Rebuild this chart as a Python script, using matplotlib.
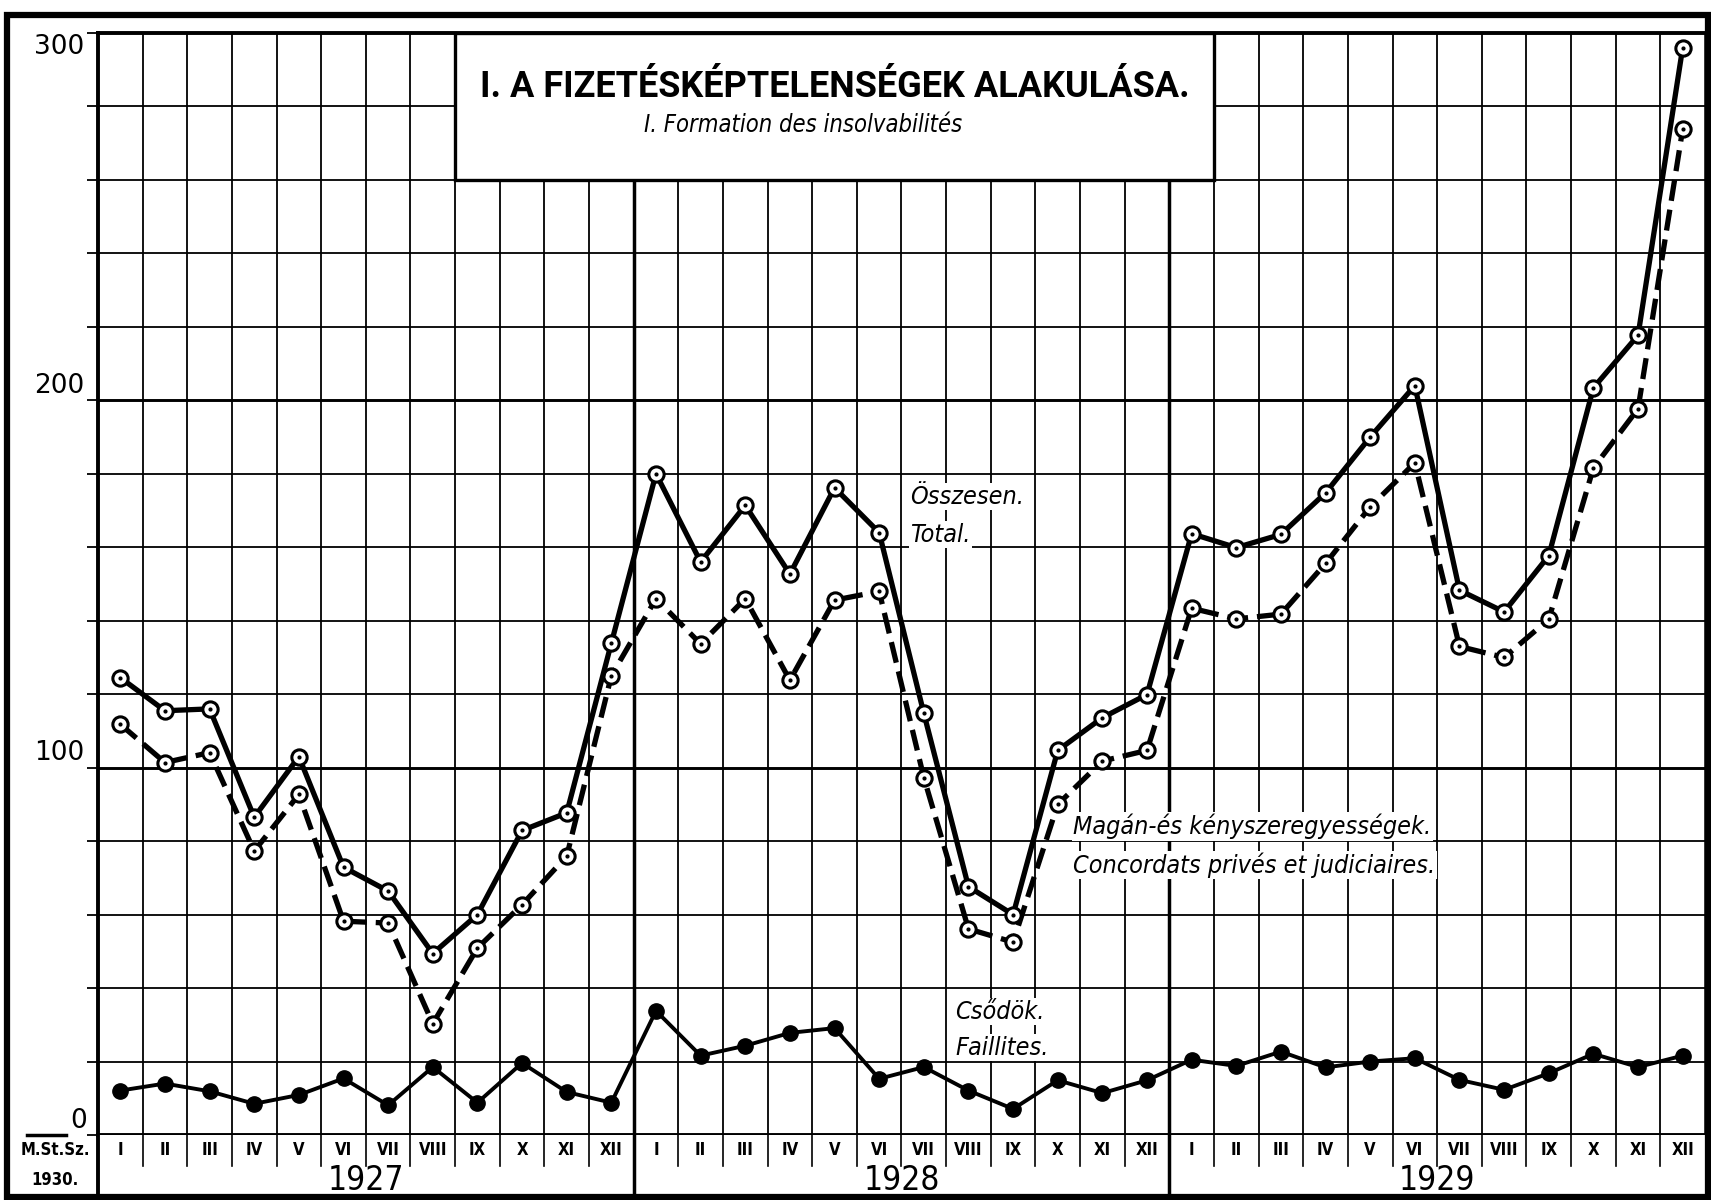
import matplotlib
matplotlib.use('Agg')
import matplotlib.pyplot as plt
from matplotlib import font_manager
from matplotlib.patches import Rectangle

# Adatok: havi fizetésképtelenségek 1927-1929
honapok = ['I', 'II', 'III', 'IV', 'V', 'VI', 'VII', 'VIII', 'IX', 'X', 'XI', 'XII']
evek = ['1927', '1928', '1929']

osszesen = [124.5, 115.5, 116.0, 86.5, 103.0, 72.9, 66.4, 49.4, 60.0, 82.9, 87.7, 133.9,
            180.0, 156.0, 171.4, 152.7, 176.2, 164.0, 114.8, 67.6, 60.0, 104.7, 113.6, 119.9,
            163.7, 159.9, 163.5, 174.8, 190.0, 204.0, 148.3, 142.4, 157.7, 203.4, 217.7, 296.0]

egyezsegek = [111.8, 101.4, 104.1, 77.3, 92.7, 58.2, 57.7, 30.3, 50.9, 62.7, 75.9, 125.0,
              146.0, 133.7, 146.0, 123.8, 145.6, 148.0, 97.3, 56.1, 52.5, 90.0, 101.8, 104.7,
              143.4, 140.5, 141.8, 155.6, 171.0, 183.0, 133.0, 130.0, 140.4, 181.6, 197.7, 273.8]

csodok = [12.1, 14.0, 11.9, 8.5, 10.9, 15.4, 8.1, 18.5, 8.8, 19.6, 11.7, 8.8,
          33.8, 21.6, 24.3, 27.8, 29.1, 15.3, 18.5, 12.1, 7.1, 14.9, 11.4, 14.9,
          20.5, 18.8, 22.7, 18.4, 20.0, 20.9, 15.0, 12.3, 16.8, 22.1, 18.5, 21.6]

y_feliratok = [0, 100, 200, 300]

# keskeny betutipus, ha van
nevek = {f.name for f in font_manager.fontManager.ttflist}
keskeny = 'Liberation Sans Narrow' if 'Liberation Sans Narrow' in nevek else 'DejaVu Sans'
sz = dict(family=keskeny, fontstretch='condensed')
cim_betu = keskeny if keskeny != 'DejaVu Sans' else ('Roboto' if 'Roboto' in nevek else 'DejaVu Sans')

W, H = 1711, 1200
fig = plt.figure(figsize=(W / 100, H / 100), dpi=100)
fig.patch.set_facecolor('white')

ax = fig.add_axes([98 / W, 65 / H, 1607 / W, 1102 / H])
n = len(osszesen)
x = [i + 0.5 for i in range(n)]
ax.set_xlim(0, n)
ax.set_ylim(0, 300)

# racs
for k in range(1, n):
    ax.axvline(k, color='k', lw=2.5 if k % 12 == 0 else 1.3, zorder=1)
for v in range(20, 300, 20):
    ax.axhline(v, color='k', lw=2.1 if v % 100 == 0 else 1.3, zorder=1)
for s in ['left', 'top', 'bottom']:
    ax.spines[s].set_linewidth(2.8)
ax.spines['right'].set_linewidth(1.8)
ax.set_xticks([])
ax.set_yticks(range(0, 301, 20))
ax.tick_params(axis='y', length=8, width=1.3, labelleft=False)

# y feliratok
for v in y_feliratok:
    if v == 300:
        ax.annotate(str(v), xy=(0, v), xycoords=('axes fraction', 'data'), xytext=(-10, -1),
                    textcoords='offset points', ha='right', va='top', fontsize=19,
                    family='DejaVu Sans', annotation_clip=False)
    elif v == 0:
        ax.annotate(str(v), xy=(0, v), xycoords=('axes fraction', 'data'), xytext=(-8, 1),
                    textcoords='offset points', ha='right', va='bottom', fontsize=19,
                    family='DejaVu Sans', annotation_clip=False)
    else:
        ax.annotate(str(v), xy=(0, v), xycoords=('axes fraction', 'data'), xytext=(-10, 1),
                    textcoords='offset points', ha='right', va='bottom', fontsize=19,
                    family='DejaVu Sans', annotation_clip=False)
ax.plot([-71 / 1607, -32 / 1607], [0, 0], transform=ax.get_yaxis_transform(),
        color='k', lw=2.5, clip_on=False)

# vonalak
ax.plot(x, egyezsegek, color='k', lw=3.8, ls=(0, (4, 1.7)), marker='o', ms=11,
        mfc='white', mec='k', mew=2.2, zorder=3)
ax.plot(x, egyezsegek, ls='none', marker='o', ms=2, color='k', zorder=3.5)
ax.plot(x, osszesen, color='k', lw=3.8, marker='o', ms=11,
        mfc='white', mec='k', mew=2.2, zorder=4)
ax.plot(x, osszesen, ls='none', marker='o', ms=2, color='k', zorder=4.5)
ax.plot(x, csodok, color='k', lw=2.8, marker='o', ms=11, zorder=4)

# cimdoboz
ax.add_patch(Rectangle((8, 260), 17, 40, facecolor='white', edgecolor='k', lw=2.4, zorder=6))
ax.text(16.5, 285.3, 'I. A FIZETÉSKÉPTELENSÉGEK ALAKULÁSA.', ha='center', va='center',
        fontsize=26, fontweight='bold', family=cim_betu, zorder=7)
ax.text(15.8, 275, 'I. Formation des insolvabilités', ha='center', va='center',
        fontsize=17, style='italic', zorder=7, **sz)

doboz = dict(facecolor='white', edgecolor='none', pad=1)
ax.text(18.2, 173.7, 'Összesen.', fontsize=18, style='italic', va='center', bbox=doboz, zorder=2, **sz)
ax.text(18.2, 163.4, 'Total.', fontsize=18, style='italic', va='center', bbox=doboz, zorder=2, **sz)
ax.text(21.85, 84, 'Magán-és kényszeregyességek.', fontsize=18, style='italic', va='center',
        bbox=doboz, zorder=2, **sz)
ax.text(21.85, 73.5, 'Concordats privés et judiciaires.', fontsize=18, style='italic', va='center',
        bbox=doboz, zorder=2, **sz)
ax.text(19.2, 33.5, 'Csődök.', fontsize=18, style='italic', va='center', bbox=doboz, zorder=2, **sz)
ax.text(19.2, 23.7, 'Faillites.', fontsize=18, style='italic', va='center', bbox=doboz, zorder=2, **sz)

# also feliratsor
lab = fig.add_axes([98 / W, 3 / H, 1607 / W, 62 / H])
lab.set_xlim(0, n)
lab.set_ylim(0, 1)
lab.set_xticks([])
lab.set_yticks([])
for s in ['top', 'right', 'bottom']:
    lab.spines[s].set_visible(False)
lab.spines['left'].set_linewidth(2.8)
for k in range(1, n):
    if k % 12 == 0:
        lab.axvline(k, color='k', lw=2.5)
    else:
        lab.plot([k, k], [0.5, 1], color='k', lw=1.2)
for i in range(n):
    lab.text(i + 0.5, 0.76, honapok[i % 12], ha='center', va='center', fontsize=12,
             fontweight='bold', **sz)
for j, ev in enumerate(evek):
    lab.text(12 * j + 6, 0.27, ev, ha='center', va='center', fontsize=24, **sz)

fig.text(55 / W, 1 - 1150 / H, 'M.St.Sz.', ha='center', va='center', fontsize=12, fontweight='bold', **sz)
fig.text(55 / W, 1 - 1180 / H, '1930.', ha='center', va='center', fontsize=12, fontweight='bold', **sz)

# kulso keret
fig.patches.append(Rectangle((0.004, 0.0025), 0.994, 0.985, transform=fig.transFigure,
                             fill=False, lw=4.5, edgecolor='k'))

fig.savefig('out.png', dpi=100)
